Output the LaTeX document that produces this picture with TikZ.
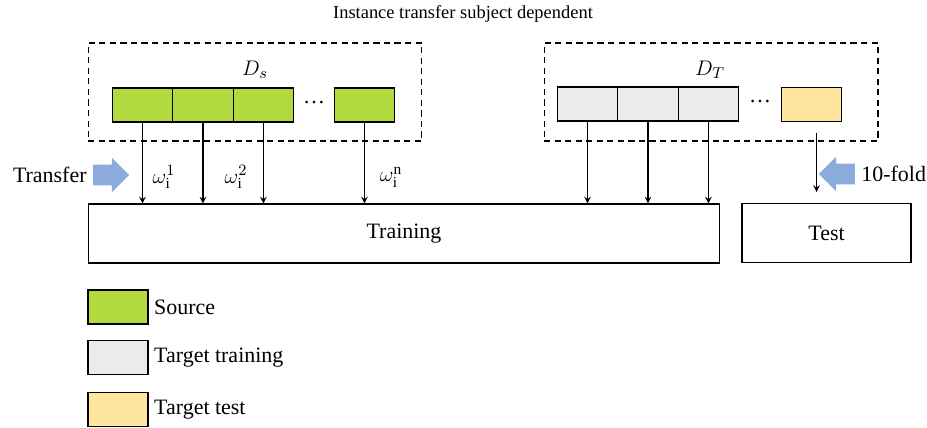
\documentclass[tikz,border=0pt]{standalone}
\usepackage{fontspec}
\setmainfont{Liberation Serif}
\usepackage{xcolor}
\usepackage{tikz}
\usetikzlibrary{positioning, shapes.arrows, arrows}
\definecolor{srcgreen}{RGB}{178,218,62}
\definecolor{tgtgray}{RGB}{235,235,235}
\definecolor{tgtyellow}{RGB}{255,229,158}
\definecolor{arrowblue}{RGB}{138,171,219}
\tikzstyle{cell}     = [rectangle, minimum width=1.21cm, minimum height=0.68cm, outer sep=0pt, draw=black, line width=0.6pt]
\tikzstyle{src}      = [cell, fill=srcgreen]
\tikzstyle{tgt}      = [cell, fill=tgtgray]
\tikzstyle{tst}      = [cell, fill=tgtyellow]
\tikzstyle{group}    = [rectangle, draw=black, line width=0.6pt, dash pattern=on 3.5pt off 2.5pt, minimum width=6.68cm, minimum height=1.96cm]
\tikzstyle{stage}    = [rectangle, draw=black, line width=0.6pt, minimum height=1.18cm]
\tikzstyle{bigarrow} = [single arrow, fill=arrowblue, minimum height=0.72cm, minimum width=0.68cm, single arrow head extend=0.14cm, single arrow head indent=0pt, inner xsep=0pt, inner ysep=0.2cm]
\tikzstyle{arrow}    = [line width=0.7pt,->,>=stealth]

\begin{document}
\begin{tikzpicture}[x=0.02cm, y=-0.02cm, font=\fontsize{12.5}{14}\selectfont]
    \useasboundingbox (0,0) rectangle (927,427);
    \node (title) at (463,14) [font=\fontsize{10.5}{12}\selectfont] {Instance transfer subject dependent};

    % source domain
    \node (dsbox) [group] at (255,92) {};
    \node (ds)    at (255,70) {$D_s$};
    \node (s1)    [src] at (142.5,105) {};
    \node (s2)    [src, right=0pt of s1] {};
    \node (s3)    [src, right=0pt of s2] {};
    \node (s4)    [src] at (364.5,105) {};
    \node (sdots) at (314,103) {…};

    % target domain
    \node (dtbox) [group] at (711,92) {};
    \node (dt)    at (710,70) {$D_T$};
    \node (t1)    [tgt] at (587.5,104) {};
    \node (t2)    [tgt, right=0pt of t1] {};
    \node (t3)    [tgt, right=0pt of t2] {};
    \node (tt)    [tst] at (811.5,104.5) {};
    \node (tdots) at (760,102) {…};

    \node (train) [stage, minimum width=12.64cm] at (404,233.5) {Training};
    \node (test)  [stage, minimum width=3.38cm]  at (826.5,233) {Test};

    \node (transfer)    [bigarrow] at (106,175) {};
    \node (transfertxt) [left=0pt of transfer] {Transfer};
    \node (fold)        [bigarrow, shape border rotate=180] at (842,174) {};
    \node (foldtxt)     [right=0pt of fold] {10-fold};

    % arrows
    \foreach \c in {s1,s2,s3,s4,t1,t2,t3}
        \draw [arrow] (\c.south) -- (\c.south |- train.north);
    \draw [arrow, shorten <=0.22cm, shorten >=0.22cm] ([xshift=0.1cm]tt.south) -- ([xshift=0.1cm]tt.south |- test.north);

    \node (w1) at (164,177) {$\omega_{\mathrm{i}}^{1}$};
    \node (w2) at (236,177) {$\omega_{\mathrm{i}}^{2}$};
    \node (wn) at (391,177) {$\omega_{\mathrm{i}}^{\mathrm{n}}$};

    % legend
    \node (lsrc)    [src, minimum width=1.2cm] at (118,307) {};
    \node (lsrctxt) [right=0pt of lsrc] {Source};
    \node (ltgt)    [tgt, minimum width=1.2cm] at (118,357.5) {};
    \node (ltgttxt) [right=0pt of ltgt] {Target training};
    \node (ltst)    [tst, minimum width=1.2cm] at (118,409.5) {};
    \node (ltsttxt) [right=0pt of ltst] {Target test};
\end{tikzpicture}
\end{document}
